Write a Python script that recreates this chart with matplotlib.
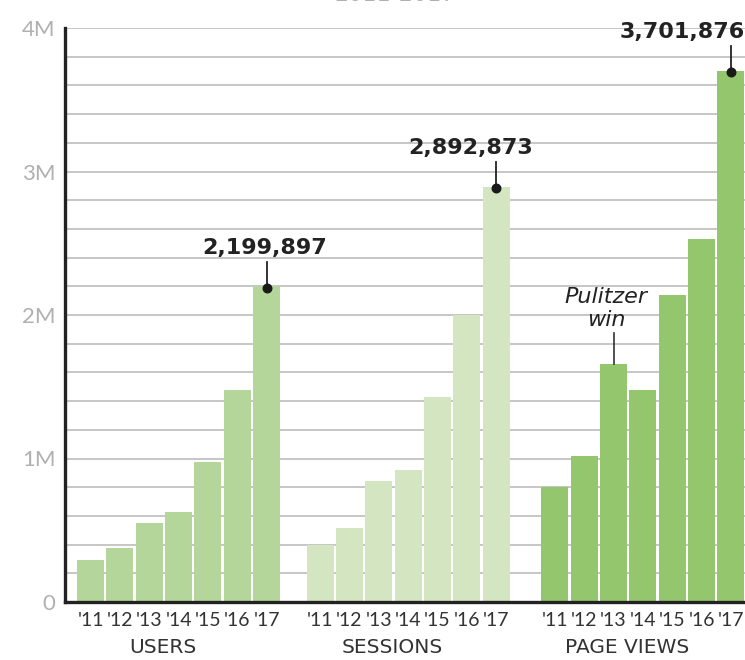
import matplotlib.pyplot as plt
import numpy as np
from matplotlib.ticker import MultipleLocator

# data
years = ["'11", "'12", "'13", "'14", "'15", "'16", "'17"]
groups = ["USERS", "SESSIONS", "PAGE VIEWS"]
users = [290000, 376000, 550000, 627000, 976000, 1477000, 2199897]
sessions = [400000, 515000, 843000, 920000, 1430000, 2000000, 2892873]
page_views = [800000, 1017000, 1658000, 1477000, 2139000, 2530000, 3701876]
colors = ["#b4d69a", "#d3e6c1", "#94c76d"]

series = [users, sessions, page_views]
offsets = [0, 7.82, 15.82]
labels_of_max = ["2,199,897", "2,892,873", "3,701,876"]
text_dx = [-0.08, -0.88, -1.65]

plt.rcParams['font.family'] = ['Lato', 'DejaVu Sans']

fig = plt.figure(figsize=(7.45, 6.6), dpi=100)
ax = fig.add_axes([65/745, 58/660, 680/745, 574/660])

xt, xl = [], []
for g, vals in enumerate(series):
    x = np.arange(len(vals)) + offsets[g]
    ax.bar(x, vals, width=0.92, color=colors[g], zorder=2)
    xt += list(x); xl += years
    # label of the biggest bar
    top = vals[-1]
    ax.plot([x[-1], x[-1]], [top, top + 0.17e6], color='#222222', lw=1.3, zorder=3)
    ax.scatter([x[-1]], [top - 0.01e6], s=38, color='#1a1a1a', zorder=4)
    ax.text(x[-1] + text_dx[g], top + 0.2e6, labels_of_max[g], ha='center', va='bottom',
            fontsize=16, fontweight='bold', color='#222222', family='DejaVu Sans')
    ax.text(x[3] - 0.55, -0.08, groups[g], transform=ax.get_xaxis_transform(),
            ha='center', va='center', fontsize=14.5, color='#333333', family='DejaVu Sans')

# Pulitzer note
pv13 = offsets[2] + 2
ax.plot([pv13, pv13], [page_views[2], page_views[2] + 0.22e6], color='#333333', lw=1.2, zorder=3)
ax.text(pv13 - 0.25, page_views[2] + 0.24e6, "Pulitzer\nwin", ha='center', va='bottom',
        fontsize=16, style='italic', color='#222222', linespacing=1.15, family='DejaVu Sans')

ax.set_xlim(-0.87, 22.3)
ax.set_ylim(0, 4e6)
ax.set_xticks(xt, xl, fontsize=14, color='#333333')
ax.set_yticks([0, 1e6, 2e6, 3e6, 4e6], ['0', '1M', '2M', '3M', '4M'], fontsize=16, color='#b0b0b0')
ax.yaxis.set_minor_locator(MultipleLocator(0.2e6))
ax.tick_params(axis='both', which='both', length=0)
ax.tick_params(axis='x', pad=7)
ax.tick_params(axis='y', pad=7)
ax.grid(axis='y', which='both', color='#c2c2c2', lw=1.3, zorder=1)
ax.set_axisbelow(True)
for s in ['top', 'right']:
    ax.spines[s].set_visible(False)
for s in ['left', 'bottom']:
    ax.spines[s].set_linewidth(2.4)
    ax.spines[s].set_color('#222222')
    ax.spines[s].set_zorder(5)

fig.text(395/745, 1.008, "2011-2017", ha='center', va='center', fontsize=16, color='#b0b0b0',
         family='DejaVu Sans')

plt.savefig('out.png', dpi=100)
